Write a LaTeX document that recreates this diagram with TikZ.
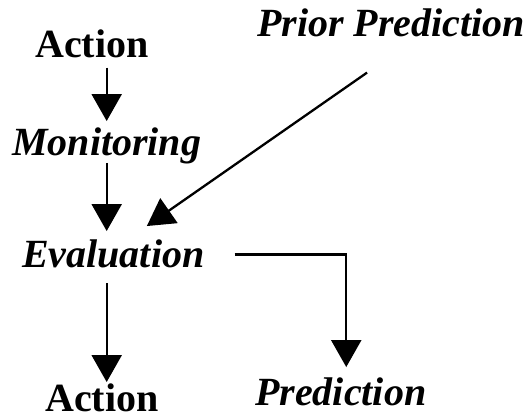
\documentclass[tikz,border=0pt]{standalone}
\usepackage{fontspec}
\setmainfont{Liberation Serif}
\usetikzlibrary{arrows.meta,calc}
\begin{document}
\begin{tikzpicture}[x=1pt,y=1pt,
  lbl/.style={inner sep=0pt,anchor=base west,font=\fontsize{40}{48}\selectfont\bfseries},
  ilbl/.style={lbl,font=\fontsize{40}{48}\selectfont\bfseries\itshape},
  arr/.style={line width=2.3pt,-{Triangle[width=30pt,length=27pt]}}]
\useasboundingbox (0,0) rectangle (528,-417);
\node[lbl]  (a1)   at (35,-58)  {Action};
\node[ilbl] (mon)  at (12,-156) {Monitoring};
\node[ilbl] (ev)   at (22,-268) {Evaluation};
\node[ilbl] (pp)   at (257,-37) {Prior Prediction};
\node[ilbl] (pred) at (255,-405){Prediction};
\node[lbl]  (a2)   at (45,-411) {Action};
\draw[arr,shorten <=9pt,shorten >=7pt] (a1.south -| mon.north) -- (mon.north);
\draw[arr,shorten <=7pt,shorten >=9pt] (mon.base) -- (ev.north -| mon.base);
\draw[arr,shorten <=15pt,shorten >=1pt] (ev.base -| mon.base) -- (a2.north -| mon.base);
\draw[arr] ([xshift=-24pt,yshift=-35pt]pp.south) -- ([xshift=33.5pt,yshift=14pt]ev.north);
\draw[arr] ([xshift=30pt]ev.east) -| ([xshift=5.5pt,yshift=10pt]pred.north);
\end{tikzpicture}
\end{document}
